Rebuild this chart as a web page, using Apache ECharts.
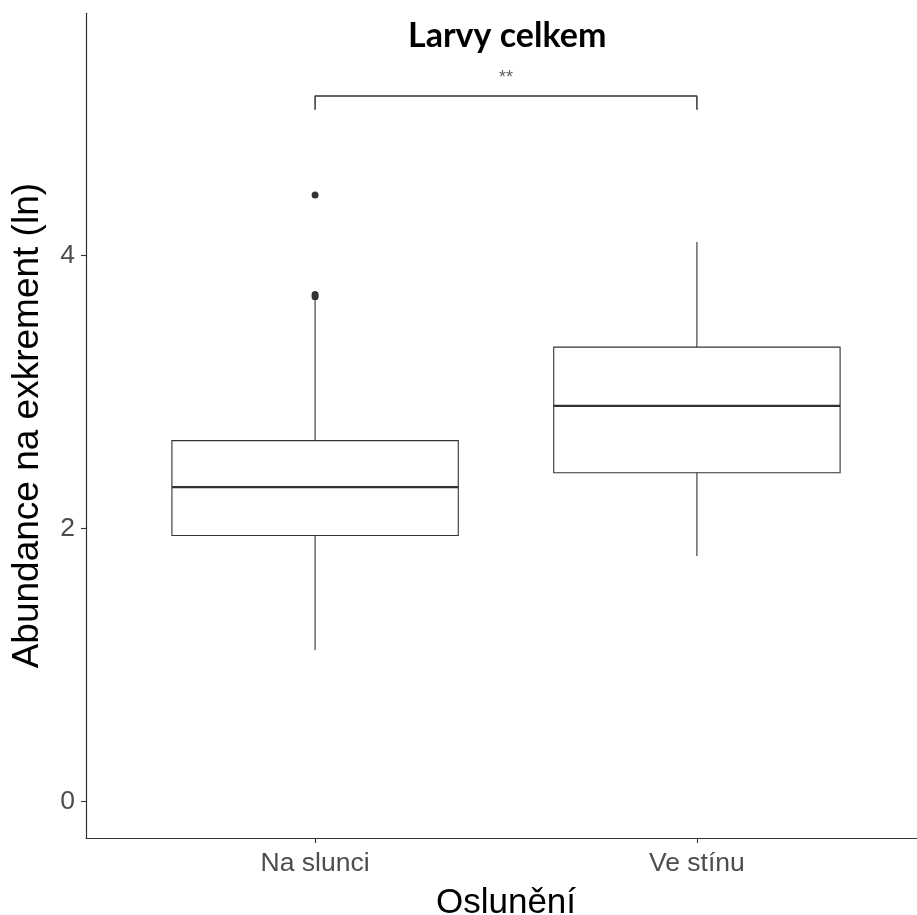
<!DOCTYPE html>
<html>
<head>
<meta charset="utf-8">
<script src="https://cdn.jsdelivr.net/npm/echarts@6/dist/echarts.min.js"></script>
<style>
html, body { margin: 0; padding: 0; background: #ffffff; overflow: hidden; }
#chart { width: 917px; height: 915px; }
</style>
</head>
<body>
<div id="chart"></div>
<script>
// ---- data ----
const categories = ['Na slunci', 'Ve stínu'];
const categoryPos = [1, 2];
const whiskerLow = [1.11, 1.80];
const q1 = [1.95, 2.41];
const medians = [2.305, 2.90];
const q3 = [2.645, 3.33];
const whiskerHigh = [3.68, 4.10];
const outliers = [[1, 4.445], [1, 3.70], [1, 3.715]];
const bracket = [[1, 5.07], [1, 5.17], [2, 5.17], [2, 5.07]];
const signifText = '**';
const signifPos = [[1.5, 5.30]];
const yTicks = [0, 2, 4];
const xTicks = [1, 2];
const titleText = 'Larvy celkem';
const xTitle = 'Oslunění';
const yTitle = 'Abundance na exkrement (ln)';

// ---- chart ----
const boxWidthUnits = 0.75;
const lineColor = '#333333';

const boxData = categories.map((c, i) => [categoryPos[i], whiskerLow[i], q1[i], medians[i], q3[i], whiskerHigh[i]]);

function renderBox(params, api) {
  const x = api.value(0);
  const lo = api.coord([x, api.value(1)]);
  const b1 = api.coord([x, api.value(2)]);
  const md = api.coord([x, api.value(3)]);
  const b3 = api.coord([x, api.value(4)]);
  const hi = api.coord([x, api.value(5)]);
  const half = api.size([boxWidthUnits, 0])[0] / 2;
  const thin = { stroke: lineColor, lineWidth: 1.1, fill: null };
  return {
    type: 'group',
    children: [
      { type: 'line', shape: { x1: lo[0], y1: lo[1], x2: b1[0], y2: b1[1] }, style: thin },
      { type: 'line', shape: { x1: b3[0], y1: b3[1], x2: hi[0], y2: hi[1] }, style: thin },
      { type: 'rect', shape: { x: b1[0] - half, y: b3[1], width: 2 * half, height: b1[1] - b3[1] },
        style: { fill: '#ffffff', stroke: lineColor, lineWidth: 1.1 } },
      { type: 'line', shape: { x1: md[0] - half, y1: md[1], x2: md[0] + half, y2: md[1] },
        style: { stroke: lineColor, lineWidth: 2.3 } }
    ]
  };
}

const chart = echarts.init(document.getElementById('chart'), null, { renderer: 'canvas' });
chart.setOption({
  animation: false,
  backgroundColor: '#ffffff',
  title: {
    text: titleText,
    left: 408,
    top: 19,
    padding: 0,
    textStyle: { fontFamily: 'Lato', fontWeight: 'bold', fontSize: 34, color: '#000000' }
  },
  grid: { left: 86, top: 13.3, width: 840, height: 824.7, containLabel: false, outerBoundsMode: 'none' },
  xAxis: {
    type: 'value',
    min: 0.4,
    max: 2.6,
    splitLine: { show: false },
    axisLine: { show: true, onZero: false, lineStyle: { color: lineColor, width: 1.2 } },
    axisTick: { show: true, customValues: xTicks, length: 5, lineStyle: { color: lineColor, width: 1.1 } },
    axisLabel: {
      customValues: xTicks,
      formatter: v => categories[Math.round(v) - 1],
      margin: 12,
      fontFamily: 'Liberation Sans',
      fontSize: 26.5,
      color: '#4d4d4d'
    },
    name: xTitle,
    nameLocation: 'middle',
    nameGap: 48,
    nameTextStyle: { fontFamily: 'Liberation Sans', fontSize: 35, color: '#000000' }
  },
  yAxis: {
    type: 'value',
    min: -0.266,
    max: 5.776,
    splitLine: { show: false },
    axisLine: { show: true, onZero: false, lineStyle: { color: lineColor, width: 1.2 } },
    axisTick: { show: true, customValues: yTicks, length: 5, lineStyle: { color: lineColor, width: 1.1 } },
    axisLabel: {
      customValues: yTicks,
      margin: 11,
      fontFamily: 'Liberation Sans',
      fontSize: 26.5,
      color: '#4d4d4d'
    },
    name: yTitle,
    nameLocation: 'middle',
    nameGap: 40,
    nameRotate: 90,
    nameTextStyle: { fontFamily: 'Liberation Sans', fontSize: 37, color: '#000000' }
  },
  series: [
    {
      type: 'custom',
      renderItem: renderBox,
      data: boxData,
      encode: { x: 0, y: [1, 2, 3, 4, 5] },
      clip: false,
      z: 2
    },
    {
      type: 'scatter',
      data: outliers,
      symbol: 'circle',
      symbolSize: 7,
      itemStyle: { color: lineColor, opacity: 1 },
      z: 3
    },
    {
      type: 'line',
      data: bracket,
      symbol: 'none',
      lineStyle: { color: lineColor, width: 1.5 },
      z: 3
    },
    {
      type: 'scatter',
      data: signifPos,
      symbolSize: 0,
      label: {
        show: true,
        position: 'inside',
        formatter: signifText,
        fontFamily: 'Liberation Sans',
        fontSize: 18,
        color: '#333333'
      },
      z: 4
    }
  ]
});
</script>
</body>
</html>
